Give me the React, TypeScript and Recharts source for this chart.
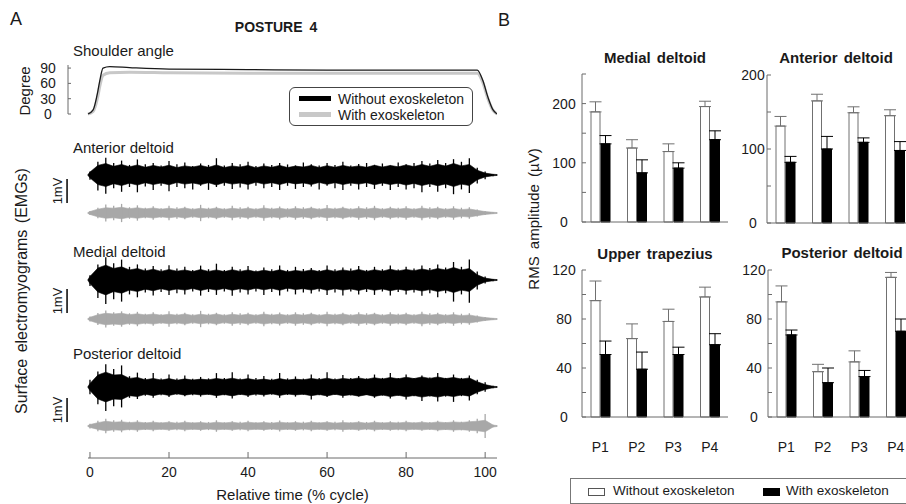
import React from "react";
import {
  LineChart,
  Line,
  ComposedChart,
  Area,
  Scatter,
  BarChart,
  Bar,
  ErrorBar,
  XAxis,
  YAxis,
  ReferenceLine,
} from "recharts";

const FONT = '"Liberation Sans", Arial, sans-serif';
const INK = "#1a1a1a";
const AXIS = "#6b6b6b";
const GREY_ANGLE = "#c8c8c8";
const GREY_EMG = "#a8a8a8";

// ---- Panel A: shoulder angle (deg) over the cycle ----
const angleTime = [-0.5, 0.8, 2, 2.5, 3.3, 5, 10, 20, 40, 60, 80, 98, 99.4, 100.7, 102, 103];
const angleWithout = [0, 8, 45, 66, 90, 93, 91, 88, 87, 86, 86, 86, 66, 33, 8, 0];
const angleWith = [0, 5, 35, 55, 76, 81, 82, 81, 80, 80, 80, 80, 62, 30, 7, 0];
const degreeTicks = [0, 30, 60, 90];
const timeTicks = [0, 20, 40, 60, 80, 100];

// ---- Panel A: EMG traces, mV from each trace baseline ----
// core = dense band half-width, up/lo (or spike) = tallest spikes
const emgTime = [
  -0.5, 0, 2, 4, 6, 8, 10, 12, 14, 16,
  18, 20, 22, 24, 26, 28, 30, 32, 34, 36,
  38, 40, 42, 44, 46, 48, 50, 52, 54, 56,
  58, 60, 62, 64, 66, 68, 70, 72, 74, 76,
  78, 80, 82, 84, 86, 88, 90, 92, 94, 96,
  98, 100, 102, 103,
];

const anteriorCore = [
  0.02, 0.12, 0.4, 0.48, 0.36, 0.44, 0.34, 0.42, 0.32, 0.4,
  0.33, 0.41, 0.31, 0.38, 0.33, 0.4, 0.32, 0.42, 0.31, 0.38,
  0.33, 0.4, 0.3, 0.38, 0.32, 0.4, 0.31, 0.37, 0.33, 0.4,
  0.31, 0.39, 0.32, 0.4, 0.33, 0.38, 0.32, 0.41, 0.33, 0.4,
  0.34, 0.42, 0.35, 0.44, 0.36, 0.45, 0.37, 0.48, 0.38, 0.44,
  0.2, 0.08, 0.03, 0.02,
];
const anteriorUp = [
  0.02, 0.15, 0.55, 0.72, 0.5, 0.6, 0.42, 0.65, 0.45, 0.5,
  0.4, 0.58, 0.45, 0.52, 0.38, 0.48, 0.42, 0.7, 0.4, 0.5,
  0.45, 0.55, 0.38, 0.48, 0.42, 0.5, 0.44, 0.4, 0.52, 0.45,
  0.4, 0.5, 0.42, 0.55, 0.4, 0.46, 0.5, 0.42, 0.48, 0.4,
  0.52, 0.45, 0.5, 0.58, 0.48, 0.62, 0.5, 0.66, 0.55, 0.7,
  0.3, 0.15, 0.04, 0.02,
];
const anteriorLo = [
  0.02, 0.2, 0.65, 0.78, 0.55, 0.7, 0.5, 0.72, 0.48, 0.62,
  0.45, 0.68, 0.5, 0.55, 0.6, 0.45, 0.62, 0.5, 0.45, 0.58,
  0.52, 0.6, 0.45, 0.55, 0.5, 0.62, 0.45, 0.58, 0.5, 0.48,
  0.6, 0.45, 0.55, 0.62, 0.45, 0.6, 0.5, 0.58, 0.45, 0.62,
  0.5, 0.6, 0.55, 0.72, 0.5, 0.7, 0.55, 0.8, 0.6, 0.75,
  0.35, 0.18, 0.05, 0.02,
];
const anteriorWithCore = [
  0.02, 0.06, 0.16, 0.22, 0.2, 0.24, 0.18, 0.22, 0.17, 0.21,
  0.16, 0.2, 0.16, 0.21, 0.15, 0.2, 0.16, 0.21, 0.15, 0.2,
  0.16, 0.2, 0.15, 0.21, 0.16, 0.2, 0.15, 0.2, 0.16, 0.21,
  0.15, 0.2, 0.16, 0.21, 0.15, 0.2, 0.16, 0.21, 0.15, 0.2,
  0.16, 0.2, 0.15, 0.21, 0.16, 0.2, 0.15, 0.19, 0.14, 0.17,
  0.11, 0.06, 0.03, 0.02,
];
const anteriorWithSpike = [
  0.02, 0.08, 0.22, 0.35, 0.3, 0.38, 0.24, 0.32, 0.22, 0.28,
  0.2, 0.3, 0.24, 0.26, 0.2, 0.34, 0.22, 0.26, 0.2, 0.3,
  0.24, 0.26, 0.2, 0.32, 0.22, 0.27, 0.2, 0.28, 0.24, 0.26,
  0.2, 0.33, 0.22, 0.26, 0.2, 0.28, 0.24, 0.3, 0.2, 0.26,
  0.22, 0.28, 0.2, 0.3, 0.24, 0.26, 0.2, 0.28, 0.22, 0.24,
  0.15, 0.08, 0.03, 0.02,
];

const medialCore = [
  0.02, 0.15, 0.5, 0.62, 0.48, 0.55, 0.42, 0.48, 0.38, 0.45,
  0.36, 0.44, 0.37, 0.42, 0.35, 0.44, 0.36, 0.42, 0.35, 0.43,
  0.36, 0.42, 0.34, 0.41, 0.35, 0.43, 0.34, 0.4, 0.36, 0.42,
  0.35, 0.43, 0.36, 0.42, 0.37, 0.44, 0.36, 0.43, 0.37, 0.45,
  0.38, 0.44, 0.39, 0.46, 0.4, 0.48, 0.42, 0.52, 0.42, 0.48,
  0.22, 0.08, 0.03, 0.02,
];
const medialUp = [
  0.02, 0.2, 0.65, 0.95, 0.7, 0.85, 0.55, 0.65, 0.48, 0.58,
  0.45, 0.62, 0.48, 0.55, 0.42, 0.6, 0.45, 0.68, 0.42, 0.55,
  0.45, 0.58, 0.4, 0.52, 0.45, 0.6, 0.42, 0.55, 0.46, 0.5,
  0.42, 0.6, 0.45, 0.52, 0.48, 0.58, 0.42, 0.55, 0.45, 0.6,
  0.44, 0.55, 0.48, 0.6, 0.5, 0.65, 0.52, 0.75, 0.55, 0.85,
  0.35, 0.15, 0.04, 0.02,
];
const medialLo = [
  0.02, 0.25, 0.75, 1.0, 0.8, 0.9, 0.6, 0.72, 0.52, 0.65,
  0.5, 0.62, 0.55, 0.6, 0.48, 0.65, 0.5, 0.62, 0.48, 0.66,
  0.52, 0.6, 0.48, 0.62, 0.5, 0.65, 0.48, 0.6, 0.52, 0.56,
  0.48, 0.62, 0.52, 0.65, 0.48, 0.6, 0.5, 0.62, 0.48, 0.65,
  0.5, 0.6, 0.52, 0.66, 0.55, 0.72, 0.55, 0.9, 0.6, 0.95,
  0.4, 0.15, 0.05, 0.02,
];
const medialWithCore = [
  0.02, 0.07, 0.18, 0.24, 0.21, 0.24, 0.18, 0.22, 0.17, 0.21,
  0.16, 0.2, 0.16, 0.21, 0.15, 0.2, 0.16, 0.21, 0.15, 0.2,
  0.16, 0.2, 0.15, 0.21, 0.16, 0.2, 0.15, 0.2, 0.16, 0.21,
  0.15, 0.2, 0.16, 0.21, 0.15, 0.2, 0.16, 0.21, 0.15, 0.2,
  0.16, 0.2, 0.15, 0.21, 0.16, 0.2, 0.15, 0.19, 0.14, 0.17,
  0.11, 0.06, 0.03, 0.02,
];
const medialWithSpike = [
  0.02, 0.1, 0.25, 0.35, 0.28, 0.32, 0.24, 0.3, 0.22, 0.28,
  0.2, 0.32, 0.22, 0.26, 0.2, 0.34, 0.22, 0.26, 0.2, 0.28,
  0.24, 0.26, 0.2, 0.3, 0.22, 0.27, 0.2, 0.28, 0.24, 0.26,
  0.2, 0.3, 0.22, 0.26, 0.2, 0.28, 0.24, 0.26, 0.2, 0.28,
  0.22, 0.26, 0.2, 0.3, 0.24, 0.26, 0.2, 0.28, 0.22, 0.24,
  0.15, 0.08, 0.03, 0.02,
];

const posteriorCore = [
  0.02, 0.15, 0.5, 0.62, 0.5, 0.52, 0.36, 0.4, 0.3, 0.36,
  0.29, 0.35, 0.28, 0.34, 0.29, 0.33, 0.3, 0.36, 0.31, 0.37,
  0.3, 0.35, 0.29, 0.33, 0.28, 0.35, 0.29, 0.33, 0.3, 0.36,
  0.31, 0.37, 0.3, 0.36, 0.32, 0.38, 0.32, 0.39, 0.33, 0.4,
  0.34, 0.41, 0.35, 0.42, 0.36, 0.42, 0.35, 0.4, 0.33, 0.38,
  0.22, 0.1, 0.03, 0.02,
];
const posteriorUp = [
  0.02, 0.3, 0.65, 0.95, 0.75, 0.9, 0.45, 0.6, 0.38, 0.58,
  0.35, 0.52, 0.36, 0.48, 0.34, 0.42, 0.36, 0.58, 0.38, 0.62,
  0.36, 0.52, 0.38, 0.46, 0.34, 0.58, 0.36, 0.44, 0.35, 0.52,
  0.38, 0.62, 0.36, 0.5, 0.38, 0.46, 0.36, 0.52, 0.38, 0.58,
  0.38, 0.52, 0.38, 0.48, 0.4, 0.58, 0.38, 0.52, 0.38, 0.48,
  0.3, 0.2, 0.05, 0.02,
];
const posteriorLo = [
  0.02, 0.3, 0.72, 1.0, 0.8, 0.85, 0.45, 0.5, 0.36, 0.45,
  0.34, 0.42, 0.32, 0.38, 0.34, 0.4, 0.32, 0.45, 0.34, 0.48,
  0.33, 0.42, 0.35, 0.4, 0.32, 0.45, 0.33, 0.4, 0.32, 0.52,
  0.34, 0.42, 0.33, 0.45, 0.35, 0.4, 0.33, 0.45, 0.36, 0.48,
  0.36, 0.52, 0.38, 0.58, 0.4, 0.6, 0.4, 0.62, 0.38, 0.56,
  0.3, 0.2, 0.05, 0.02,
];
const posteriorWithCore = [
  0.02, 0.06, 0.14, 0.2, 0.16, 0.18, 0.14, 0.17, 0.13, 0.16,
  0.13, 0.16, 0.12, 0.16, 0.13, 0.15, 0.12, 0.16, 0.13, 0.16,
  0.12, 0.16, 0.13, 0.15, 0.12, 0.16, 0.13, 0.15, 0.12, 0.16,
  0.13, 0.16, 0.12, 0.15, 0.13, 0.16, 0.12, 0.16, 0.13, 0.15,
  0.13, 0.16, 0.13, 0.16, 0.13, 0.17, 0.14, 0.17, 0.15, 0.18,
  0.2, 0.24, 0.04, 0.02,
];
const posteriorWithSpike = [
  0.02, 0.1, 0.22, 0.3, 0.24, 0.26, 0.18, 0.24, 0.17, 0.22,
  0.16, 0.2, 0.18, 0.22, 0.16, 0.2, 0.17, 0.24, 0.16, 0.2,
  0.18, 0.22, 0.16, 0.2, 0.17, 0.23, 0.16, 0.2, 0.18, 0.22,
  0.16, 0.2, 0.18, 0.24, 0.16, 0.2, 0.17, 0.22, 0.16, 0.2,
  0.18, 0.22, 0.16, 0.2, 0.17, 0.22, 0.16, 0.24, 0.18, 0.24,
  0.3, 0.5, 0.05, 0.02,
];

// ---- Panel B: RMS amplitude (uV), mean and +SD ----
const postures = ["P1", "P2", "P3", "P4"];

const medialRmsWithout = [186, 125, 119, 195];
const medialRmsWithoutSd = [17, 14, 13, 9];
const medialRmsWith = [132, 83, 91, 139];
const medialRmsWithSd = [14, 22, 9, 15];

const anteriorRmsWithout = [131, 165, 149, 145];
const anteriorRmsWithoutSd = [13, 9, 8, 8];
const anteriorRmsWith = [82, 100, 109, 98];
const anteriorRmsWithSd = [8, 17, 6, 12];

const trapeziusRmsWithout = [95, 64, 78, 98];
const trapeziusRmsWithoutSd = [16, 12, 10, 8];
const trapeziusRmsWith = [51, 39, 51, 59];
const trapeziusRmsWithSd = [11, 14, 6, 9];

const posteriorRmsWithout = [94, 37, 45, 114];
const posteriorRmsWithoutSd = [13, 6, 9, 4];
const posteriorRmsWith = [67, 28, 33, 70];
const posteriorRmsWithSd = [4, 12, 5, 10];

// vertical layout of the six traces, in mV from the top trace
const ROWS = {
  ant: { b: 0, g: -1.583, bar: -0.667 },
  med: { b: -4.375, g: -6.0, bar: -5.25 },
  post: { b: -8.833, g: -10.458, bar: -9.79 },
};

const angleRows = angleTime.map((t, i) => ({
  t,
  without: angleWithout[i],
  withExo: angleWith[i],
}));

const band = (c: number, a: number) => [c - a, c + a];

const emgRows = emgTime.map((t, i) => ({
  t,
  antB: band(ROWS.ant.b, anteriorCore[i]),
  antBs: [anteriorLo[i], anteriorUp[i]],
  antG: band(ROWS.ant.g, anteriorWithCore[i]),
  antGs: [anteriorWithSpike[i], anteriorWithSpike[i]],
  medB: band(ROWS.med.b, medialCore[i]),
  medBs: [medialLo[i], medialUp[i]],
  medG: band(ROWS.med.g, medialWithCore[i]),
  medGs: [medialWithSpike[i], medialWithSpike[i]],
  postB: band(ROWS.post.b, posteriorCore[i]),
  postBs: [posteriorLo[i], posteriorUp[i]],
  postG: band(ROWS.post.g, posteriorWithCore[i]),
  postGs: [posteriorWithSpike[i], posteriorWithSpike[i]],
}));

function Txt({
  x,
  y,
  children,
  size = 15,
  bold = false,
  anchor = "start",
  rotate = false,
  spacing = 0,
}: {
  x: number;
  y: number;
  children: React.ReactNode;
  size?: number;
  bold?: boolean;
  anchor?: "start" | "middle";
  rotate?: boolean;
  spacing?: number;
}) {
  const tx = anchor === "middle" || rotate ? "-50%" : "0";
  return (
    <div
      style={{
        position: "absolute",
        left: x,
        top: y,
        transform: `translate(${tx}, -50%)${rotate ? " rotate(-90deg)" : ""}`,
        fontSize: size,
        fontWeight: bold ? 700 : 400,
        wordSpacing: spacing,
        whiteSpace: "nowrap",
        lineHeight: 1,
        color: INK,
      }}
    >
      {children}
    </div>
  );
}

function CenteredTick(props: any) {
  const { x, y, payload, show } = props;
  if (!show.includes(payload.value)) return <g />;
  return (
    <text
      x={x}
      y={y}
      dy="0.36em"
      textAnchor="middle"
      fontSize={14}
      fontFamily={FONT}
      fill={INK}
    >
      {payload.value}
    </text>
  );
}

type PanelProps = {
  without: number[];
  withoutSd: number[];
  withExo: number[];
  withSd: number[];
  domain: [number, number];
  ticks: number[];
  labelled: number[];
  left: number;
  top: number;
  plotHeight: number;
  labelOffset: number;
  showCats: boolean;
};

const PAD = 10;

function RmsPanel(p: PanelProps) {
  const rows = postures.map((name, i) => ({
    name,
    w: p.without[i],
    we: [0, p.withoutSd[i]],
    b: p.withExo[i],
    be: [0, p.withSd[i]],
  }));
  const xh = p.showCats ? 40 : 1;
  const bottomPad = p.showCats ? 0 : PAD;
  return (
    <div style={{ position: "absolute", left: p.left, top: p.top - PAD }}>
      <BarChart
        width={186}
        height={p.plotHeight + xh + PAD + bottomPad}
        data={rows}
        margin={{ top: PAD, right: 0, bottom: bottomPad, left: 0 }}
        barSize={9}
        barGap={1}
      >
        <XAxis
          dataKey="name"
          height={xh}
          axisLine={{ stroke: AXIS }}
          tickLine={false}
          tickSize={0}
          tickMargin={25}
          interval={0}
          tick={p.showCats ? { fontSize: 14, fill: INK, fontFamily: FONT } : false}
        />
        <YAxis
          domain={p.domain}
          ticks={p.ticks}
          interval={0}
          width={40}
          axisLine={{ stroke: AXIS }}
          tickLine={{ stroke: AXIS }}
          tickSize={-4}
          tickMargin={4 + p.labelOffset}
          tick={(tp: any) => <CenteredTick {...tp} show={p.labelled} />}
        />
        <Bar dataKey="w" fill="#ffffff" stroke="#707070" isAnimationActive={false}>
          <ErrorBar dataKey="we" width={6} stroke="#707070" strokeWidth={1} isAnimationActive={false} />
        </Bar>
        <Bar dataKey="b" fill="#000000" stroke="#000000" isAnimationActive={false}>
          <ErrorBar dataKey="be" width={6} stroke="#000000" strokeWidth={1} isAnimationActive={false} />
        </Bar>
      </BarChart>
    </div>
  );
}

function ScaleBar({ y }: { y: number }) {
  return (
    <ReferenceLine
      key={`bar${y}`}
      segment={[
        { x: -5.8, y: y + 0.5 },
        { x: -5.8, y: y - 0.5 },
      ]}
      stroke="#000"
      strokeWidth={1.5}
      ifOverflow="visible"
    />
  );
}

// dense band of the trace
function EmgCore({ dataKey, color }: { dataKey: string; color: string }) {
  return (
    <Area
      key={dataKey}
      type="linear"
      dataKey={dataKey}
      stroke={color}
      strokeWidth={0.6}
      fill={color}
      fillOpacity={1}
      isAnimationActive={false}
    />
  );
}

// single tall spikes drawn as vertical error whiskers about the baseline
function EmgSpikes({ base, errKey, color }: { base: number; errKey: string; color: string }) {
  return (
    <Scatter
      key={errKey}
      dataKey={() => base}
      shape={() => <g />}
      isAnimationActive={false}
    >
      <ErrorBar
        dataKey={errKey}
        direction="y"
        width={0}
        stroke={color}
        strokeWidth={1.3}
        isAnimationActive={false}
      />
    </Scatter>
  );
}

export default function App() {
  return (
    <div
      style={{
        position: "fixed",
        left: 0,
        top: 0,
        width: 906,
        height: 504,
        overflow: "hidden",
        background: "#fff",
        fontFamily: FONT,
      }}
    >
      {/* ---------- Panel A ---------- */}
      <Txt x={10} y={19} size={18}>A</Txt>
      <Txt x={276} y={27} size={14} bold anchor="middle" spacing={3}>POSTURE 4</Txt>
      <Txt x={73} y={50}>Shoulder angle</Txt>
      <Txt x={24} y={91} rotate>Degree</Txt>

      <div style={{ position: "absolute", left: 28, top: 57 }}>
        <LineChart
          width={473}
          height={65}
          data={angleRows}
          margin={{ top: 8, right: 4, bottom: 8, left: 0 }}
        >
          <XAxis type="number" dataKey="t" domain={[-5.56, 103]} hide allowDataOverflow />
          <YAxis
            domain={[0, 96]}
            ticks={degreeTicks}
            interval={0}
            width={40}
            axisLine={{ stroke: AXIS }}
            tickLine={{ stroke: AXIS }}
            tickSize={-3}
            tickMargin={23}
            tick={(tp: any) => <CenteredTick {...tp} show={degreeTicks} />}
          />
          <Line
            type="monotone"
            dataKey="withExo"
            stroke={GREY_ANGLE}
            strokeWidth={3}
            dot={false}
            isAnimationActive={false}
          />
          <Line
            type="monotone"
            dataKey="without"
            stroke={INK}
            strokeWidth={1.3}
            dot={false}
            isAnimationActive={false}
          />
        </LineChart>
      </div>

      <div
        style={{
          position: "absolute",
          left: 289,
          top: 87,
          width: 182,
          height: 37,
          border: "1px solid #444",
          borderRadius: 6,
          fontSize: 14,
          color: INK,
        }}
      >
        <div style={{ position: "absolute", left: 9, top: 8, width: 32, height: 5, background: "#000" }} />
        <div style={{ position: "absolute", left: 48, top: 3, whiteSpace: "nowrap" }}>Without exoskeleton</div>
        <div style={{ position: "absolute", left: 9, top: 24, width: 32, height: 5, background: GREY_ANGLE }} />
        <div style={{ position: "absolute", left: 48, top: 19, whiteSpace: "nowrap" }}>With exoskeleton</div>
      </div>

      <Txt x={73} y={147}>Anterior deltoid</Txt>
      <Txt x={73} y={251}>Medial deltoid</Txt>
      <Txt x={73} y={353}>Posterior deltoid</Txt>
      <Txt x={22} y={291} size={16} rotate spacing={2}>Surface electromyograms (EMGs)</Txt>
      <Txt x={57} y={191} size={13} rotate>1mV</Txt>
      <Txt x={57} y={301} size={13} rotate>1mV</Txt>
      <Txt x={57} y={410} size={13} rotate>1mV</Txt>

      <div style={{ position: "absolute", left: 48, top: 151 }}>
        <ComposedChart
          width={453}
          height={353}
          data={emgRows}
          margin={{ top: 0, right: 4, bottom: 0, left: 40 }}
        >
          <XAxis
            type="number"
            dataKey="t"
            domain={[-0.5, 103]}
            ticks={timeTicks}
            interval={0}
            allowDataOverflow
            height={46}
            axisLine={{ stroke: AXIS }}
            tickLine={{ stroke: AXIS }}
            tickSize={-6}
            tickMargin={15}
            tick={{ fontSize: 14, fill: INK, fontFamily: FONT }}
            label={{
              value: "Relative time (% cycle)",
              position: "insideBottom",
              offset: 4,
              fontSize: 15,
              fill: INK,
              fontFamily: FONT,
            }}
          />
          <YAxis hide type="number" domain={[-11.79, 1]} allowDataOverflow />
          {EmgCore({ dataKey: "antB", color: "#000" })}
          {EmgCore({ dataKey: "antG", color: GREY_EMG })}
          {EmgCore({ dataKey: "medB", color: "#000" })}
          {EmgCore({ dataKey: "medG", color: GREY_EMG })}
          {EmgCore({ dataKey: "postB", color: "#000" })}
          {EmgCore({ dataKey: "postG", color: GREY_EMG })}
          {EmgSpikes({ base: ROWS.ant.b, errKey: "antBs", color: "#000" })}
          {EmgSpikes({ base: ROWS.ant.g, errKey: "antGs", color: GREY_EMG })}
          {EmgSpikes({ base: ROWS.med.b, errKey: "medBs", color: "#000" })}
          {EmgSpikes({ base: ROWS.med.g, errKey: "medGs", color: GREY_EMG })}
          {EmgSpikes({ base: ROWS.post.b, errKey: "postBs", color: "#000" })}
          {EmgSpikes({ base: ROWS.post.g, errKey: "postGs", color: GREY_EMG })}
          {ScaleBar({ y: ROWS.ant.bar })}
          {ScaleBar({ y: ROWS.med.bar })}
          {ScaleBar({ y: ROWS.post.bar })}
        </ComposedChart>
      </div>

      {/* ---------- Panel B ---------- */}
      <Txt x={498} y={20} size={18}>B</Txt>
      <Txt x={533} y={219} rotate spacing={3}>RMS amplitude (µV)</Txt>

      <Txt x={655} y={57} bold anchor="middle" spacing={2}>Medial deltoid</Txt>
      <Txt x={836} y={57} bold anchor="middle" spacing={2}>Anterior deltoid</Txt>
      <Txt x={655} y={253} bold anchor="middle" spacing={2}>Upper trapezius</Txt>
      <Txt x={842} y={252} bold anchor="middle" spacing={2}>Posterior deltoid</Txt>

      <RmsPanel
        without={medialRmsWithout}
        withoutSd={medialRmsWithoutSd}
        withExo={medialRmsWith}
        withSd={medialRmsWithSd}
        domain={[0, 250]}
        ticks={[0, 50, 100, 150, 200, 250]}
        labelled={[0, 100, 200]}
        left={542}
        top={74}
        plotHeight={148}
        labelOffset={18}
        showCats={false}
      />
      <RmsPanel
        without={anteriorRmsWithout}
        withoutSd={anteriorRmsWithoutSd}
        withExo={anteriorRmsWith}
        withSd={anteriorRmsWithSd}
        domain={[0, 200]}
        ticks={[0, 50, 100, 150, 200]}
        labelled={[0, 100, 200]}
        left={727}
        top={75}
        plotHeight={148}
        labelOffset={14}
        showCats={false}
      />
      <RmsPanel
        without={trapeziusRmsWithout}
        withoutSd={trapeziusRmsWithoutSd}
        withExo={trapeziusRmsWith}
        withSd={trapeziusRmsWithSd}
        domain={[0, 120]}
        ticks={[0, 20, 40, 60, 80, 100, 120]}
        labelled={[0, 40, 80, 120]}
        left={542}
        top={270}
        plotHeight={147}
        labelOffset={18}
        showCats
      />
      <RmsPanel
        without={posteriorRmsWithout}
        withoutSd={posteriorRmsWithoutSd}
        withExo={posteriorRmsWith}
        withSd={posteriorRmsWithSd}
        domain={[0, 120]}
        ticks={[0, 20, 40, 60, 80, 100, 120]}
        labelled={[0, 40, 80, 120]}
        left={728}
        top={270}
        plotHeight={147}
        labelOffset={14}
        showCats
      />

      <div
        style={{
          position: "absolute",
          left: 570,
          top: 478,
          width: 360,
          height: 24,
          border: "1px solid #777",
          fontSize: 13.5,
          color: INK,
        }}
      >
        <div style={{ position: "absolute", left: 17, top: 9, width: 15, height: 6, border: "1px solid #555", background: "#fff" }} />
        <div style={{ position: "absolute", left: 42, top: 4, whiteSpace: "nowrap" }}>Without exoskeleton</div>
        <div style={{ position: "absolute", left: 192, top: 9, width: 17, height: 8, background: "#000" }} />
        <div style={{ position: "absolute", left: 215, top: 4, whiteSpace: "nowrap" }}>With exoskeleton</div>
      </div>
    </div>
  );
}
